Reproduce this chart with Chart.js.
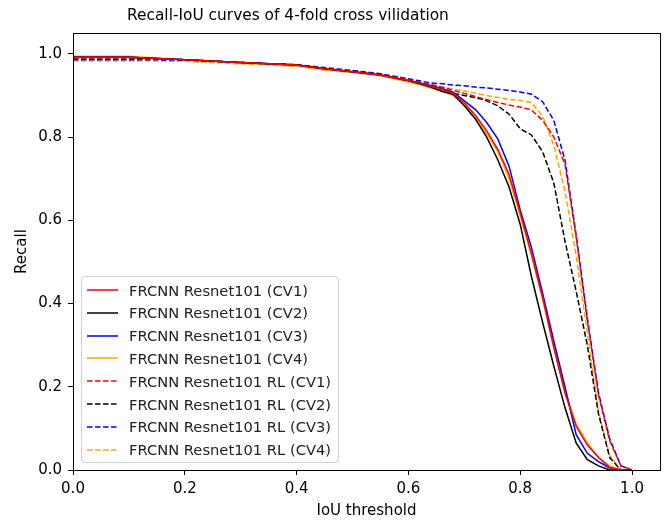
<!DOCTYPE html>
<html>
<head>
<meta charset="utf-8">
<script src="https://cdn.jsdelivr.net/npm/chart.js@4.4.0/dist/chart.umd.min.js"></script>
<style>
    html, body { margin: 0; padding: 0; background: #fff; }
    #wrap { position: relative; width: 665px; height: 523px; }
    #title {
        position: absolute; left: 127px; top: 6px; white-space: nowrap;
        font-family: "DejaVu Sans", sans-serif; font-size: 15.4px; color: #000;
    }
    #legend {
        position: absolute; left: 81px; top: 276px; width: 258px; height: 187px;
        border: 1px solid #d0d0d0; border-radius: 4px; background: rgba(255,255,255,0.8);
        font-family: "DejaVu Sans", sans-serif; font-size: 14.7px; color: #222; box-sizing: border-box;
    }
    .row { position: absolute; left: 0; height: 22px; display: flex; align-items: center; white-space: nowrap; }
    .row svg { margin-left: 5px; margin-right: 11px; }
</style>
</head>
<body>
<div id="wrap">
    <canvas id="chart" width="665" height="523"></canvas>
    <div id="title">Recall-IoU curves of 4-fold cross vilidation</div>
    <div id="legend"></div>
</div>
<script>
// IoU thresholds (shared x values)
const iou = [0, 0.1, 0.2, 0.3, 0.4, 0.45, 0.5, 0.55, 0.6, 0.62, 0.64, 0.66, 0.68, 0.7, 0.72, 0.74, 0.76, 0.78,
    0.8, 0.82, 0.84, 0.86, 0.88, 0.9, 0.92, 0.94, 0.96, 0.98, 1.0];

// FRCNN Resnet101
const cv1 = [0.992, 0.992, 0.986, 0.979, 0.973, 0.964, 0.957, 0.949, 0.936, 0.929, 0.922, 0.915, 0.905, 0.882, 0.852, 0.815, 0.77, 0.71,
    0.618, 0.52, 0.415, 0.295, 0.185, 0.105, 0.06, 0.03, 0.006, 0, 0];
const cv2 = [0.992, 0.992, 0.986, 0.979, 0.973, 0.964, 0.957, 0.949, 0.935, 0.928, 0.92, 0.91, 0.903, 0.875, 0.843, 0.80, 0.745, 0.68,
    0.59, 0.465, 0.355, 0.25, 0.15, 0.065, 0.025, 0.01, 0, 0, 0];
const cv3 = [0.992, 0.992, 0.986, 0.979, 0.973, 0.964, 0.957, 0.949, 0.936, 0.93, 0.924, 0.917, 0.908, 0.887, 0.866, 0.835, 0.795, 0.73,
    0.625, 0.535, 0.425, 0.31, 0.20, 0.085, 0.04, 0.02, 0.005, 0, 0];
const cv4 = [0.994, 0.994, 0.986, 0.978, 0.971, 0.961, 0.955, 0.947, 0.932, 0.926, 0.918, 0.91, 0.9, 0.877, 0.847, 0.808, 0.765, 0.70,
    0.61, 0.515, 0.41, 0.295, 0.19, 0.11, 0.065, 0.03, 0.01, 0, 0];

// FRCNN Resnet101 RL
const rl1 = [0.99, 0.99, 0.986, 0.979, 0.973, 0.965, 0.958, 0.95, 0.938, 0.932, 0.926, 0.92, 0.912, 0.905, 0.897, 0.89, 0.883, 0.877,
    0.872, 0.865, 0.84, 0.80, 0.735, 0.56, 0.36, 0.18, 0.07, 0.01, 0];
const rl2 = [0.99, 0.99, 0.986, 0.979, 0.973, 0.965, 0.958, 0.95, 0.937, 0.93, 0.922, 0.915, 0.905, 0.90, 0.895, 0.887, 0.875, 0.855,
    0.82, 0.805, 0.765, 0.69, 0.55, 0.43, 0.30, 0.135, 0.03, 0, 0];
const rl3 = [0.986, 0.986, 0.985, 0.979, 0.974, 0.967, 0.96, 0.952, 0.94, 0.935, 0.93, 0.928, 0.925, 0.923, 0.92, 0.918, 0.915, 0.912,
    0.908, 0.903, 0.885, 0.84, 0.745, 0.565, 0.365, 0.185, 0.075, 0.01, 0];
const rl4 = [0.983, 0.983, 0.982, 0.976, 0.97, 0.962, 0.956, 0.948, 0.936, 0.93, 0.925, 0.92, 0.915, 0.911, 0.905, 0.90, 0.895, 0.89,
    0.888, 0.883, 0.85, 0.78, 0.67, 0.515, 0.33, 0.14, 0.035, 0, 0];

const xTicks = [0, 0.2, 0.4, 0.6, 0.8, 1.0];
const yTicks = [0, 0.2, 0.4, 0.6, 0.8, 1.0];

const seriesNames = ['FRCNN Resnet101 (CV1)', 'FRCNN Resnet101 (CV2)', 'FRCNN Resnet101 (CV3)', 'FRCNN Resnet101 (CV4)',
    'FRCNN Resnet101 RL (CV1)', 'FRCNN Resnet101 RL (CV2)', 'FRCNN Resnet101 RL (CV3)', 'FRCNN Resnet101 RL (CV4)'];
const seriesValues = [cv1, cv2, cv3, cv4, rl1, rl2, rl3, rl4];
const colors = ['#ff0000', '#000000', '#0000ff', '#ffa500'];

const FONT = '"DejaVu Sans", sans-serif';

const datasets = seriesValues.map((vals, i) => ({
    label: seriesNames[i],
    data: iou.map((x, j) => ({ x: x, y: vals[j] })),
    borderColor: colors[i % 4],
    borderWidth: 1.5,
    borderDash: i >= 4 ? [5.5, 2.5] : [],
    pointRadius: 0,
    showLine: true,
    fill: false,
    tension: 0
}));

// matplotlib style box around the plot
const frame = {
    id: 'frame',
    afterDraw(chart) {
        const a = chart.chartArea, ctx = chart.ctx;
        ctx.save();
        ctx.strokeStyle = '#000';
        ctx.lineWidth = 1;
        ctx.strokeRect(Math.round(a.left) + 0.5, Math.round(a.top) + 0.5, Math.round(a.right - a.left), Math.round(a.bottom - a.top));
        ctx.restore();
    }
};

new Chart(document.getElementById('chart'), {
    type: 'scatter',
    data: { datasets },
    options: {
        responsive: false,
        animation: false,
        layout: { padding: { left: 0, right: 5, top: 33, bottom: 0 } },
        plugins: {
            legend: { display: false },
            tooltip: { enabled: false },
            title: { display: false }
        },
        scales: {
            x: {
                type: 'linear', min: 0, max: 1.05,
                afterBuildTicks: s => { s.ticks = xTicks.map(v => ({ value: v })); },
                afterFit: s => { s.height = 53; },
                ticks: { color: '#000', font: { family: FONT, size: 15 }, padding: 5, callback: v => v.toFixed(1), maxRotation: 0 },
                grid: { drawOnChartArea: false, color: '#000', tickLength: 5 },
                border: { color: '#000' },
                title: { display: true, text: 'IoU threshold', color: '#000', font: { family: FONT, size: 15 }, padding: { top: 0, bottom: 3 } }
            },
            y: {
                type: 'linear', min: 0, max: 1.05,
                afterBuildTicks: s => { s.ticks = yTicks.map(v => ({ value: v })); },
                afterFit: s => { s.width = 73; },
                ticks: { color: '#000', font: { family: FONT, size: 15 }, padding: 6, callback: v => v.toFixed(1) },
                grid: { drawOnChartArea: false, color: '#000', tickLength: 5 },
                border: { color: '#000' },
                title: { display: true, text: 'Recall', color: '#000', font: { family: FONT, size: 15 }, padding: { top: 13, bottom: 0 } }
            }
        }
    },
    plugins: [frame]
});

// legend box like matplotlib's
const legend = document.getElementById('legend');
seriesNames.forEach((name, i) => {
    const row = document.createElement('div');
    row.className = 'row';
    row.style.top = (2 + i * 22.8) + 'px';
    const dash = i >= 4 ? 'stroke-dasharray="5.5 2.5"' : '';
    row.innerHTML = `<svg width="31" height="4"><line x1="0" y1="2" x2="31" y2="2" stroke="${colors[i % 4]}" stroke-width="1.5" ${dash}/></svg><span>${name}</span>`;
    legend.appendChild(row);
});
</script>
</body>
</html>
